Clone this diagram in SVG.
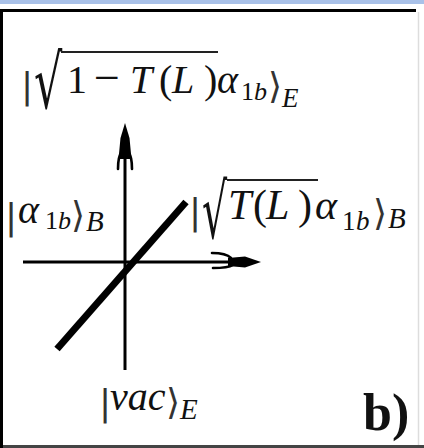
<svg xmlns="http://www.w3.org/2000/svg" width="424" height="448" viewBox="0 0 424 448">
<defs>
<style>
.t{font-family:"Liberation Serif","DejaVu Serif",serif;fill:#111}
.i{font-style:italic}
.m{font-size:40px}
.s{font-size:26px}
.bar{font-family:"DejaVu Sans","Liberation Sans",sans-serif;font-size:36px;fill:#333}
.ang{font-family:"DejaVu Serif","Liberation Serif",serif;font-size:36px;fill:#333}
.rad{font-family:"DejaVu Serif","Liberation Serif",serif;fill:#111}
.ax{stroke:#000;stroke-width:3;fill:none}
.prong{stroke:#000;stroke-width:2.6;fill:none;stroke-linecap:round}
.head{fill:#000}
</style>
</defs>
<rect width="424" height="448" fill="#fff"/>
<rect x="0" y="0" width="424" height="4" fill="#a9c1e8"/>
<g id="frame">
<rect x="0" y="9" width="416" height="3" fill="#000"/>
<rect x="0" y="9" width="3" height="439" fill="#000"/>
<rect x="3" y="445" width="421" height="3" fill="#444"/>
<line x1="418.5" y1="12" x2="418.5" y2="445" stroke="#ddd" stroke-width="1.5"/>
</g>
<g id="connectors">
<line class="ax" x1="125" y1="370" x2="125" y2="135"/>
<path class="head" d="M125,123 L129.5,138 L131.5,159 L118.5,159 L120.5,138 Z"/>
<path class="prong" d="M118,169 Q118,156 122,152 M132,169 Q132,156 128,152"/>
<line class="ax" x1="23" y1="262" x2="250" y2="262"/>
<path class="head" d="M261,262 L245,256.5 L228,258 L228,266 L245,267.5 Z"/>
<path class="prong" d="M212,253 Q226,253 231,258 M213,268 Q228,268 233,265"/>
<line x1="57" y1="349" x2="186" y2="202" stroke="#000" stroke-width="7"/>
</g>
<g id="label-top">
<text class="bar" x="21" y="98">|</text>
<text class="rad" font-size="74" transform="translate(34,108) scale(0.6,1)">√</text>
<line x1="61" y1="52" x2="218" y2="52" stroke="#222" stroke-width="2"/>
<text class="t m" x="67" y="93">1</text>
<text class="t" x="94" y="93" font-size="46">−</text>
<text class="t m i" x="130" y="93">T</text>
<text class="t m" x="159" y="93">(</text>
<text class="t m i" x="172" y="93">L</text>
<text class="t m" x="204" y="93">)</text>
<text class="t m i" x="217" y="93">α</text>
<text class="t s" x="241" y="100">1</text>
<text class="t s i" x="254" y="100">b</text>
<text class="ang" x="268" y="98">⟩</text>
<text class="t i" x="282" y="107" font-size="27">E</text>
</g>
<g id="label-left">
<text class="bar" x="5" y="229">|</text>
<text class="t m i" x="18" y="223">α</text>
<text class="t s" x="45" y="229">1</text>
<text class="t s i" x="58" y="229">b</text>
<text class="ang" x="71" y="227">⟩</text>
<text class="t i" x="86" y="231" font-size="29">B</text>
</g>
<g id="label-right">
<text class="bar" x="189" y="224" font-size="40">|</text>
<text class="rad" font-size="76" transform="translate(202,238) scale(0.52,1)">√</text>
<line x1="227" y1="180" x2="318" y2="180" stroke="#222" stroke-width="2"/>
<text class="t i" x="228" y="219" font-size="42">T</text>
<text class="t" x="253" y="219" font-size="42">(</text>
<text class="t i" x="266" y="219" font-size="42">L</text>
<text class="t" x="298" y="219" font-size="42">)</text>
<text class="t i" x="315" y="219" font-size="42">α</text>
<text class="t" x="342" y="230" font-size="27">1</text>
<text class="t i" x="356" y="230" font-size="27">b</text>
<text class="ang" x="373" y="225" font-size="38">⟩</text>
<text class="t i" x="388" y="228" font-size="29">B</text>
</g>
<g id="label-bottom">
<text class="bar" x="99" y="415" font-size="38">|</text>
<text class="t m i" x="110" y="410">vac</text>
<text class="ang" x="166" y="414">⟩</text>
<text class="t i" x="180" y="419" font-size="29">E</text>
</g>
<g id="label-b">
<text class="t" x="363" y="430" font-size="52" font-weight="bold">b)</text>
</g>
</svg>
